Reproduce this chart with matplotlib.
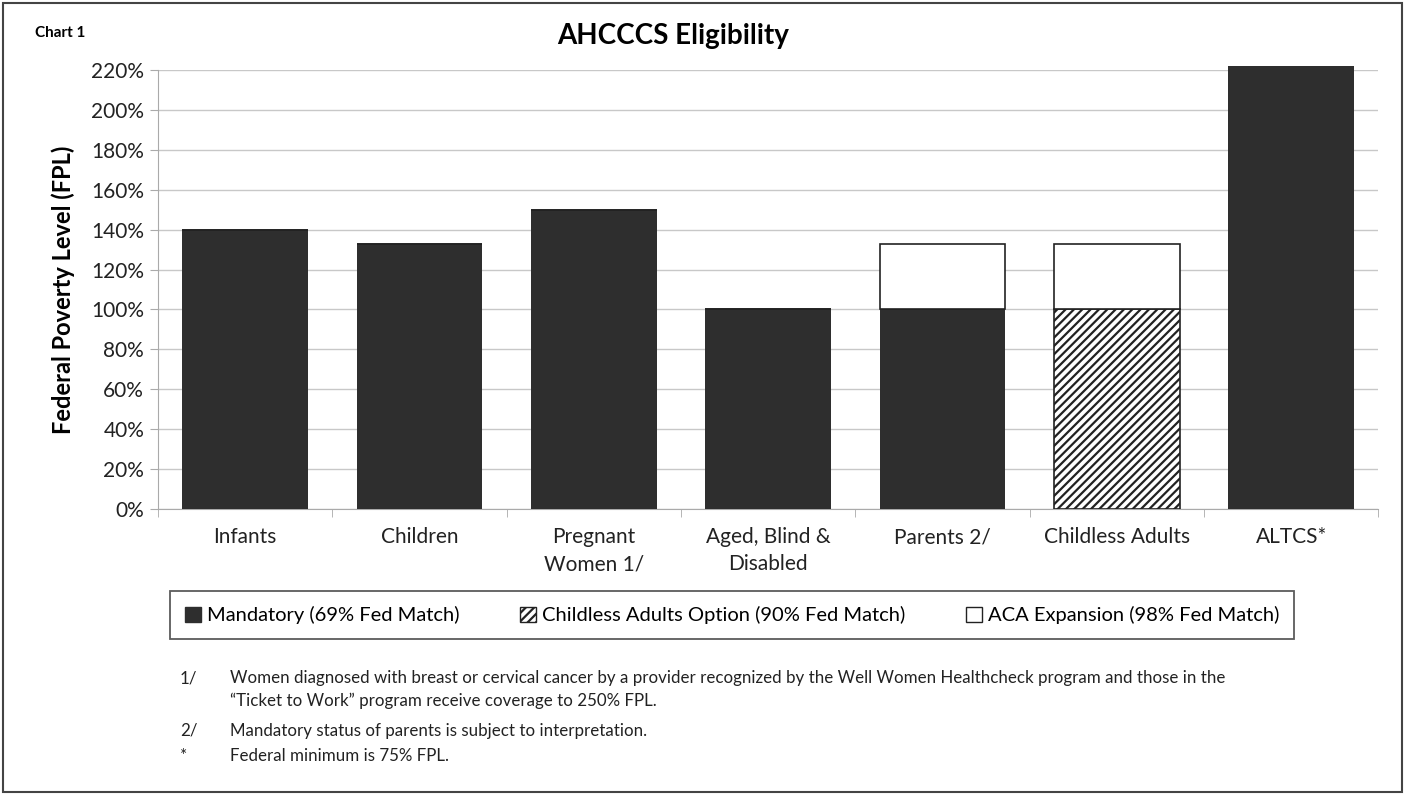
import numpy as np
import matplotlib.pyplot as plt
from matplotlib.patches import Rectangle, Patch

plt.rcParams['font.family'] = ['Lato', 'DejaVu Sans']
plt.rcParams['hatch.linewidth'] = 1.6

categories = ['Infants', 'Children', 'Pregnant\nWomen 1/', 'Aged, Blind &\nDisabled',
              'Parents 2/', 'Childless Adults', 'ALTCS*']
mandatory = [140, 133, 150, 100, 100, 0, 222]
childless_option = [0, 0, 0, 0, 0, 100, 0]
aca_expansion = [0, 0, 0, 0, 33, 33, 0]
yticks = [0, 20, 40, 60, 80, 100, 120, 140, 160, 180, 200, 220]

series_names = ['Mandatory (69% Fed Match)', 'Childless Adults Option (90% Fed Match)',
                'ACA Expansion (98% Fed Match)']
footnotes = [
    ('1/', 'Women diagnosed with breast or cervical cancer by a provider recognized by the Well Women Healthcheck program and those in the\n'
           '\u201cTicket to Work\u201d program receive coverage to 250% FPL.'),
    ('2/', 'Mandatory status of parents is subject to interpretation.'),
    ('*', 'Federal minimum is 75% FPL.'),
]

dark = '#2e2e2e'
fig = plt.figure(figsize=(14.05, 7.96), dpi=100)
ax = fig.add_axes([0.1125, 0.3606, 0.8685, 0.5514])

x = np.arange(len(categories))
w = 0.72
mand = np.array(mandatory)
opt = np.array(childless_option)
aca = np.array(aca_expansion)
ax.bar(x, mand, w, color=dark, zorder=3, clip_on=False)
ax.bar(x, opt, w, bottom=mand, color='white', edgecolor='#222222', hatch='////',
       linewidth=1.2, zorder=3)
ax.bar(x, aca, w, bottom=mand + opt, color='white', edgecolor='#222222',
       linewidth=1.2, zorder=3)

ax.set_xlim(-0.5, len(categories) - 0.5)
ax.set_ylim(0, 220)
ax.set_yticks(yticks)
ax.set_yticklabels([f'{v}%' for v in yticks], fontsize=15, color='#222222')
ax.set_xticks(x)
ax.set_xticklabels(categories, fontsize=15, color='#222222', linespacing=1.45)
ax.set_xticks(np.arange(-0.5, len(categories)), minor=True)
ax.tick_params(axis='x', which='major', length=0, pad=13)
ax.tick_params(axis='x', which='minor', length=6, color='#aaaaaa')
ax.tick_params(axis='y', length=6, color='#aaaaaa', pad=4)
ax.grid(axis='y', color='#c8c8c8', linewidth=1, zorder=0)
for s in ['top', 'right']:
    ax.spines[s].set_visible(False)
for s in ['left', 'bottom']:
    ax.spines[s].set_color('#aaaaaa')

ax.set_ylabel('Federal Poverty Level (FPL)', fontsize=17, fontweight='bold', labelpad=12)
fig.text(0.479, 0.955, 'AHCCCS Eligibility', fontsize=20, fontweight='bold',
         ha='center', va='center')
fig.text(0.025, 0.958, 'Chart 1', fontsize=11, fontweight='bold', va='center')

handles = [Patch(facecolor=dark, edgecolor=dark),
           Patch(facecolor='white', edgecolor='#222222', hatch='////'),
           Patch(facecolor='white', edgecolor='#222222')]
leg = fig.legend(handles, series_names, loc='center', bbox_to_anchor=(0.521, 0.227),
                 ncol=3, fontsize=14.5, frameon=True, fancybox=False, edgecolor='#333333',
                 handlelength=0.8, handleheight=0.8, handletextpad=0.3, columnspacing=3.0,
                 borderpad=0.75, borderaxespad=0)
leg.get_frame().set_linewidth(1.3)

ys = [0.158, 0.092, 0.06]
for (mark, text), y in zip(footnotes, ys):
    fig.text(0.128, y, mark, fontsize=12.2, va='top', color='#222222')
    fig.text(0.164, y, text, fontsize=12.2, va='top', color='#222222', linespacing=1.45)

fig.patches.append(Rectangle((0.002, 0.005), 0.996, 0.991, transform=fig.transFigure,
                             fill=False, edgecolor='#444444', linewidth=1.5))
fig.savefig('out.png', dpi=100)
